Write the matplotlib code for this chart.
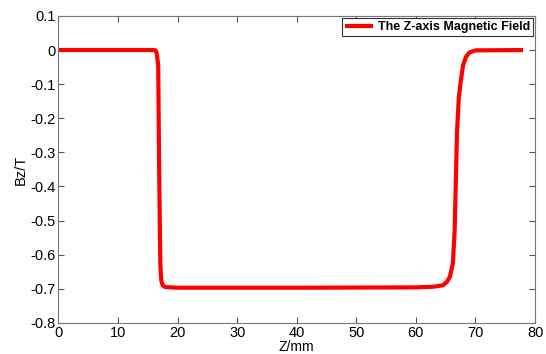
import matplotlib
matplotlib.use('Agg')
import matplotlib.pyplot as plt

plt.rcParams['font.family'] = ['Liberation Sans', 'DejaVu Sans']

# Z position (mm) and axial field Bz (T)
z = [0, 10, 16.0, 16.3, 16.5, 16.75, 16.9, 17.1, 17.25, 17.5, 17.9, 20,
     40, 60, 63, 64.5, 65.2, 65.7, 66.2, 66.5, 66.9, 67.2, 67.5, 67.9,
     68.4, 69.0, 70, 78]
bz = [0, 0, 0, -0.001, -0.008, -0.046, -0.336, -0.626, -0.675, -0.69, -0.695, -0.697,
      -0.697, -0.696, -0.694, -0.69, -0.68, -0.665, -0.626, -0.53, -0.24, -0.14, -0.095, -0.046,
      -0.02, -0.007, -0.001, 0]

xticks = [0, 10, 20, 30, 40, 50, 60, 70, 80]
yticks = [0.1, 0, -0.1, -0.2, -0.3, -0.4, -0.5, -0.6, -0.7, -0.8]

fig = plt.figure(figsize=(5.46, 3.54), dpi=100)
ax = fig.add_axes([0.107, 0.088, 0.873, 0.867])

ax.plot(z, bz, color='#ff0000', lw=3, solid_capstyle='butt',
        label='The Z-axis Magnetic Field')

ax.set_xlim(0, 80)
ax.set_ylim(-0.8, 0.1)
ax.set_xticks(xticks)
ax.set_yticks(yticks)
ax.set_yticklabels(['%g' % v for v in yticks])
ax.tick_params(direction='in', top=True, right=True, length=4,
               labelsize=10.5, color='#555555', pad=2)
for s in ax.spines.values():
    s.set_color('#777777')

ax.set_xlabel('Z/mm', fontsize=10, labelpad=0)
ax.set_ylabel('Bz/T', fontsize=10.5, labelpad=2)

leg = ax.legend(loc='upper right', fancybox=False, framealpha=1,
                prop={'size': 9, 'weight': 'bold'}, handlelength=2.2,
                borderpad=0.25, borderaxespad=0.15, handletextpad=0.4)
leg.get_frame().set_edgecolor('#333333')
leg.get_frame().set_linewidth(0.8)

fig.savefig('out.png', dpi=100)
